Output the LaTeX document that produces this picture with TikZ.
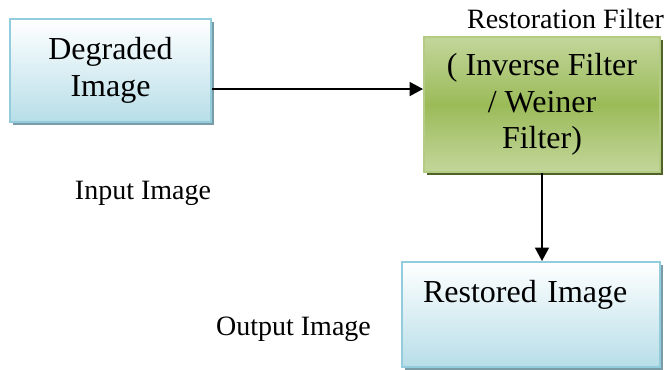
\documentclass[tikz,border=0pt]{standalone}
\usepackage{fontspec}
\setmainfont{Liberation Serif}
\usepackage{tikz}
\usetikzlibrary{shadows,arrows.meta}
\definecolor{boxline}{HTML}{93CDDD}
\definecolor{boxlow}{HTML}{B7DEE8}
\definecolor{boxshade}{HTML}{7A9CA6}
\definecolor{grnlight}{HTML}{C3D69B}
\definecolor{grnmid}{HTML}{9BBB59}
\definecolor{grnline}{HTML}{B3CB82}
\definecolor{grnshade}{HTML}{4F6228}
\tikzstyle{bluebox}=[draw=boxline,line width=1.5pt,top color=white,bottom color=boxlow,drop shadow={shadow xshift=2.25pt,shadow yshift=-2.25pt,fill=boxshade,opacity=1},inner sep=0pt,font=\rmfamily\fontsize{24pt}{27.5pt}\selectfont,align=center]
\tikzstyle{greenbox}=[draw=grnline,line width=1.5pt,top color=grnlight,bottom color=grnlight,middle color=grnmid,drop shadow={shadow xshift=2.25pt,shadow yshift=-2.25pt,fill=grnshade,opacity=1},inner sep=0pt,font=\rmfamily\fontsize{24pt}{27.5pt}\selectfont,align=center]
\tikzstyle{lbl}=[font=\rmfamily\fontsize{21pt}{24pt}\selectfont,anchor=base,inner sep=0pt]
\tikzstyle{to}=[-{Triangle[length=10pt,width=10.5pt]},line width=1.1pt]

\begin{document}
\begin{tikzpicture}[x=0.75pt,y=-0.75pt]
            \useasboundingbox (0,0) rectangle (672,370);
            \node[bluebox,minimum width=150.75pt,minimum height=77.25pt] (degraded) at (110.5,70.5) {Degraded\\Image}
            ;
            \node[greenbox,minimum width=177pt,minimum height=101.25pt] (restfilter) at (542,104.5) {( Inverse Filter\\/ Weiner\\Filter)}
            ;
            \node[bluebox,align=left,text width=162pt,inner xsep=15.75pt,text height=30.75pt,text depth=48pt] (restored) at (531,314.5) {Restored Image}
            ;
            \node[lbl] (restlabel) at (565.5,29) {Restoration Filter};
            \node[lbl] (inlabel) at (143,200) {Input Image};
            \node[lbl] (outlabel) at (293.5,336) {Output Image};
            \draw[to] ([yshift=-13.9pt]degraded.east) -- ([yshift=-13.9pt]degraded.east -| restfilter.west);
            \draw[to] (restfilter.south) -- (restfilter.south |- restored.north);
        \end{tikzpicture}
\end{document}
